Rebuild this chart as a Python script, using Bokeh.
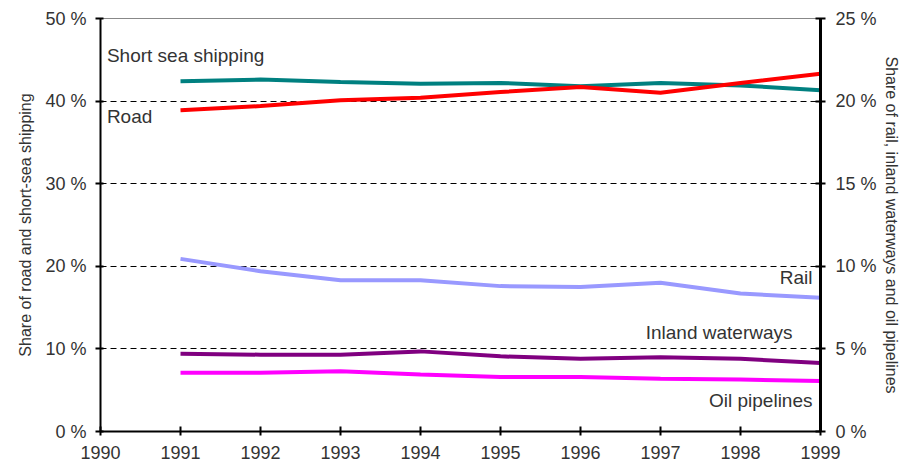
from bokeh.plotting import figure
from bokeh.models import Range1d, LinearAxis, Label, PrintfTickFormatter, FixedTicker
from bokeh.embed import file_html
from bokeh.resources import INLINE

years = [1991, 1992, 1993, 1994, 1995, 1996, 1997, 1998, 1999]
short_sea = [42.4, 42.6, 42.3, 42.1, 42.2, 41.8, 42.2, 41.9, 41.3]
road = [38.9, 39.4, 40.1, 40.4, 41.1, 41.7, 41.0, 42.2, 43.3]
rail = [10.45, 9.7, 9.15, 9.15, 8.8, 8.75, 9.0, 8.35, 8.1]
inland = [4.7, 4.65, 4.65, 4.85, 4.55, 4.4, 4.5, 4.4, 4.15]
oil = [3.55, 3.55, 3.65, 3.45, 3.3, 3.3, 3.2, 3.15, 3.05]
x_ticks = [1990, 1991, 1992, 1993, 1994, 1995, 1996, 1997, 1998, 1999]
left_ticks = [0, 10, 20, 30, 40, 50]
right_ticks = [0, 5, 10, 15, 20, 25]

FONT = "Liberation Sans"
TXT = "#333333"

p = figure(width=908, height=464, output_backend="svg", toolbar_location=None,
           x_range=Range1d(1990, 1999), y_range=Range1d(0, 50),
           min_border_left=100, min_border_right=88, min_border_top=18, min_border_bottom=33)
p.extra_y_ranges = {"right": Range1d(0, 25)}

p.xgrid.visible = False
p.ygrid.ticker = FixedTicker(ticks=[10, 20, 30, 40])
p.ygrid.grid_line_color = "black"
p.ygrid.grid_line_dash = "6 4"
p.ygrid.grid_line_width = 1
p.outline_line_color = "#888888"
p.outline_line_width = 1
p.background_fill_color = "white"
p.border_fill_color = "white"

def style_axis(ax, width):
    ax.major_label_text_font = FONT
    ax.major_label_text_font_size = "18px"
    ax.major_label_text_color = TXT
    ax.axis_label_text_font = FONT
    ax.axis_label_text_font_size = "16px"
    ax.axis_label_text_font_style = "normal"
    ax.axis_label_text_color = TXT
    ax.axis_line_width = width
    ax.major_tick_line_width = 2
    ax.minor_tick_line_color = None

# left axis
ya = p.yaxis[0]
ya.ticker = FixedTicker(ticks=left_ticks)
ya.formatter = PrintfTickFormatter(format="%d %%")
ya.axis_label = "Share of road and short-sea shipping"
style_axis(ya, 2)
ya.major_tick_in = 3
ya.major_tick_out = 5
ya.major_label_standoff = 9
ya.axis_label_standoff = 8

# right axis
ra = LinearAxis(y_range_name="right", ticker=FixedTicker(ticks=right_ticks),
                formatter=PrintfTickFormatter(format="%d %%"))
ra.axis_label = "Share of rail, inland waterways and oil pipelines"
style_axis(ra, 3)
ra.major_tick_in = 5
ra.major_tick_out = 5
ra.major_label_standoff = 10
ra.axis_label_standoff = 3
p.add_layout(ra, "right")

# bottom axis
xa = p.xaxis[0]
xa.ticker = FixedTicker(ticks=x_ticks)
style_axis(xa, 2)
xa.major_tick_in = 5
xa.major_tick_out = 4
xa.major_label_standoff = 10

p.line(years, short_sea, line_color="#008080", line_width=4)
p.line(years, road, line_color="#FF0000", line_width=4)
p.line(years, rail, line_color="#9999FF", line_width=4, y_range_name="right")
p.line(years, inland, line_color="#800080", line_width=4, y_range_name="right")
p.line(years, oil, line_color="#FF00FF", line_width=4, y_range_name="right")

def lab(x, y, t, align):
    p.add_layout(Label(x=x, y=y, text=t, text_align=align, text_baseline="middle",
                       text_font=FONT, text_font_size="19px", text_color=TXT))

lab(1990.08, 45.5, "Short sea shipping", "left")
lab(1990.08, 38.1, "Road", "left")
lab(1998.9, 18.6, "Rail", "right")
lab(1998.65, 12.0, "Inland waterways", "right")
lab(1998.9, 3.75, "Oil pipelines", "right")

open("out.html", "w").write(file_html(p, INLINE))
